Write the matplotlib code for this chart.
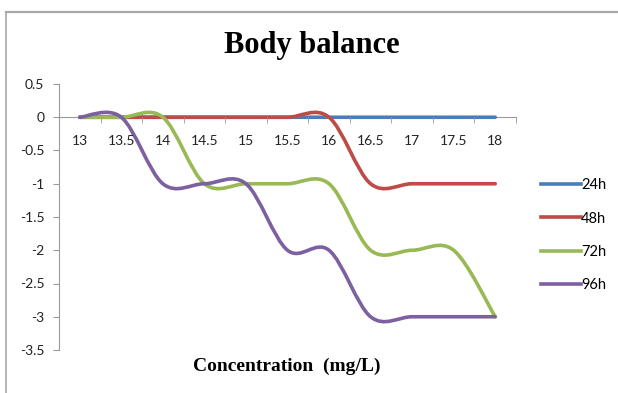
import numpy as np
import matplotlib
matplotlib.use("Agg")
import matplotlib.pyplot as plt
from matplotlib.path import Path
from matplotlib.patches import PathPatch
from matplotlib.lines import Line2D

# data
concentration = ["13", "13.5", "14", "14.5", "15", "15.5", "16", "16.5", "17", "17.5", "18"]
h24 = [0, 0, 0, 0, 0, 0, 0, 0, 0, 0, 0]
h48 = [0, 0, 0, 0, 0, 0, 0, -1, -1, -1, -1]
h72 = [0, 0, 0, -1, -1, -1, -1, -2, -2, -2, -3]
h96 = [0, 0, -1, -1, -1, -2, -2, -3, -3, -3, -3]
series_names = ["24h", "48h", "72h", "96h"]
colors = ["#4A7EBB", "#BE4B48", "#98B954", "#7D60A0"]


def smooth_path(xs, ys):
    # excel style smoothed line: cubic bezier through every point
    pts = np.column_stack([xs, ys]).astype(float)
    n = len(pts)
    verts = [pts[0]]
    codes = [Path.MOVETO]
    for i in range(n - 1):
        p_prev = pts[max(i - 1, 0)]
        p0 = pts[i]
        p1 = pts[i + 1]
        p_next = pts[min(i + 2, n - 1)]
        c1 = p0 + (p1 - p_prev) / 6.0
        c2 = p1 - (p_next - p0) / 6.0
        verts += [c1, c2, p1]
        codes += [Path.CURVE4] * 3
    return Path(verts, codes)


fig = plt.figure(figsize=(6.18, 3.93), dpi=100)
ax = fig.add_axes([59 / 618, 1 - 350 / 393, (516 - 59) / 618, (350 - 84) / 393])

x = np.arange(len(concentration))
handles = []
for name, vals, c in zip(series_names, [h24, h48, h72, h96], colors):
    patch = PathPatch(smooth_path(x, vals), facecolor="none", edgecolor=c,
                      lw=2.6, capstyle="round", joinstyle="round")
    ax.add_patch(patch)
    handles.append(Line2D([], [], color=c, lw=2.6, label=name))

ax.set_xlim(-0.5, len(concentration) - 0.5)
ax.set_ylim(-3.5, 0.5)
ax.set_yticks(np.arange(-3.5, 0.51, 0.5))
ax.set_yticklabels([("%g" % v) for v in np.arange(-3.5, 0.51, 0.5)])

ax.set_xticks(x)
ax.set_xticklabels(concentration)
ax.set_xticks(np.arange(-0.5, len(concentration), 1), minor=True)

axis_grey = "#9A9A9A"
for s in ["top", "right"]:
    ax.spines[s].set_visible(False)
ax.spines["bottom"].set_position(("data", 0))
ax.spines["bottom"].set_color(axis_grey)
ax.spines["left"].set_color(axis_grey)
ax.spines["bottom"].set_zorder(0.5)

ax.tick_params(axis="x", which="major", length=0, pad=12.5, labelsize=10)
ax.tick_params(axis="x", which="minor", length=4.5, direction="out", color=axis_grey)
ax.tick_params(axis="y", length=4.5, direction="out", color=axis_grey, pad=6, labelsize=10)
for lab in ax.get_xticklabels() + ax.get_yticklabels():
    lab.set_family("Lato")
    lab.set_color("#222222")

fig.text(312 / 618, 1 - 53 / 393, "Body balance", family="Liberation Serif",
         weight="bold", size=22, ha="center", va="baseline")
fig.text(287 / 618, 1 - 366 / 393, "Concentration  (mg/L)", family="Liberation Serif",
         weight="bold", size=14, ha="center", va="center")

leg = fig.legend(handles=handles, loc="upper left", bbox_to_anchor=(528 / 618, 1 - 165 / 393),
                 frameon=False, handlelength=2.7, handletextpad=0.05, labelspacing=1.33,
                 prop={"family": "Lato", "size": 10.5})

# chart area border (left and top only visible)
border = "#A8A8A8"
fig.add_artist(Line2D([6 / 618, 6 / 618], [0, 1 - 12 / 393], color=border, lw=1.2,
                      transform=fig.transFigure))
fig.add_artist(Line2D([6 / 618, 1], [1 - 12 / 393, 1 - 12 / 393], color=border, lw=1.6,
                      transform=fig.transFigure))

fig.savefig("out.png", dpi=100)
